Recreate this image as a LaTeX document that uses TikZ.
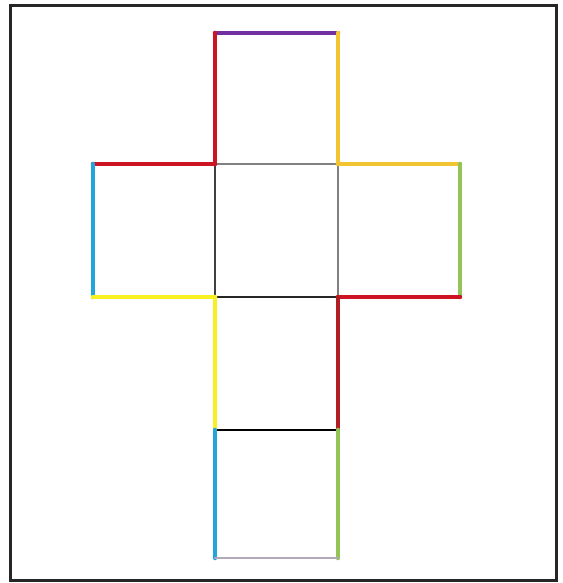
\documentclass[tikz,border=0pt]{standalone}
\usepackage{xcolor}
\usepackage{tikz}
\usetikzlibrary{positioning, calc}

\definecolor{netpurple}{HTML}{7030A0}
\definecolor{netred}{HTML}{CC1422}
\definecolor{netdarkred}{HTML}{B01E24}
\definecolor{netgold}{HTML}{F2C431}
\definecolor{netyellow}{HTML}{F8F020}
\definecolor{netblue}{HTML}{22A4DC}
\definecolor{netgreen}{HTML}{92C456}
\definecolor{netgray}{HTML}{808080}
\definecolor{netlilac}{HTML}{B4A8B8}

\begin{document}
\begin{tikzpicture}[
        x=1pt, y=-1pt,
        edge/.style={line width=4.6pt, line cap=round},
        fold/.style={line width=2.2pt, line cap=round},
        frame/.style={draw=black!85, line width=3pt}
    ]
        % Frame
        \useasboundingbox (0,0) rectangle (562,583);
        \draw[frame] (10,6) rectangle (556,580);

        % Corners
        \coordinate (a1) at (215,33);  \coordinate (a2) at (338,33);
        \coordinate (b0) at (93,164);  \coordinate (b1) at (215,164);
        \coordinate (b2) at (338,164); \coordinate (b3) at (460,164);
        \coordinate (c0) at (93,297);  \coordinate (c1) at (215,297);
        \coordinate (c2) at (338,297); \coordinate (c3) at (460,297);
        \coordinate (d1) at (215,430); \coordinate (d2) at (338,430);
        \coordinate (e1) at (215,558); \coordinate (e2) at (338,558);

        % Fold lines
        \draw[fold, netgray] (b1) -- (b2);
        \draw[fold, black!75] (b1) -- (c1);
        \draw[fold, netgray] (b2) -- (c2);
        \draw[fold, black!85] (c1) -- (c2);
        \draw[fold, black] (d1) -- (d2);

        % Top face
        \draw[edge, netpurple] (a1) -- (a2);
        \draw[edge, netred] (a1) -- (b1);
        \draw[edge, netgold] (a2) -- (b2);

        % Left face
        \draw[edge, netred] (b0) -- (b1);
        \draw[edge, netblue] (b0) -- (c0);
        \draw[edge, netyellow] (c0) -- (c1);

        % Right face
        \draw[edge, netgold] (b2) -- (b3);
        \draw[edge, netgreen] (b3) -- (c3);
        \draw[edge, netred] (c2) -- (c3);

        % Lower face
        \draw[edge, netyellow] (c1) -- (d1);
        \draw[edge, netdarkred] (c2) -- (d2);

        % Bottom face
        \draw[edge, netblue] (d1) -- (e1);
        \draw[edge, netgreen] (d2) -- (e2);
        \draw[fold, netlilac] (e1) -- (e2);
    \end{tikzpicture}
\end{document}
